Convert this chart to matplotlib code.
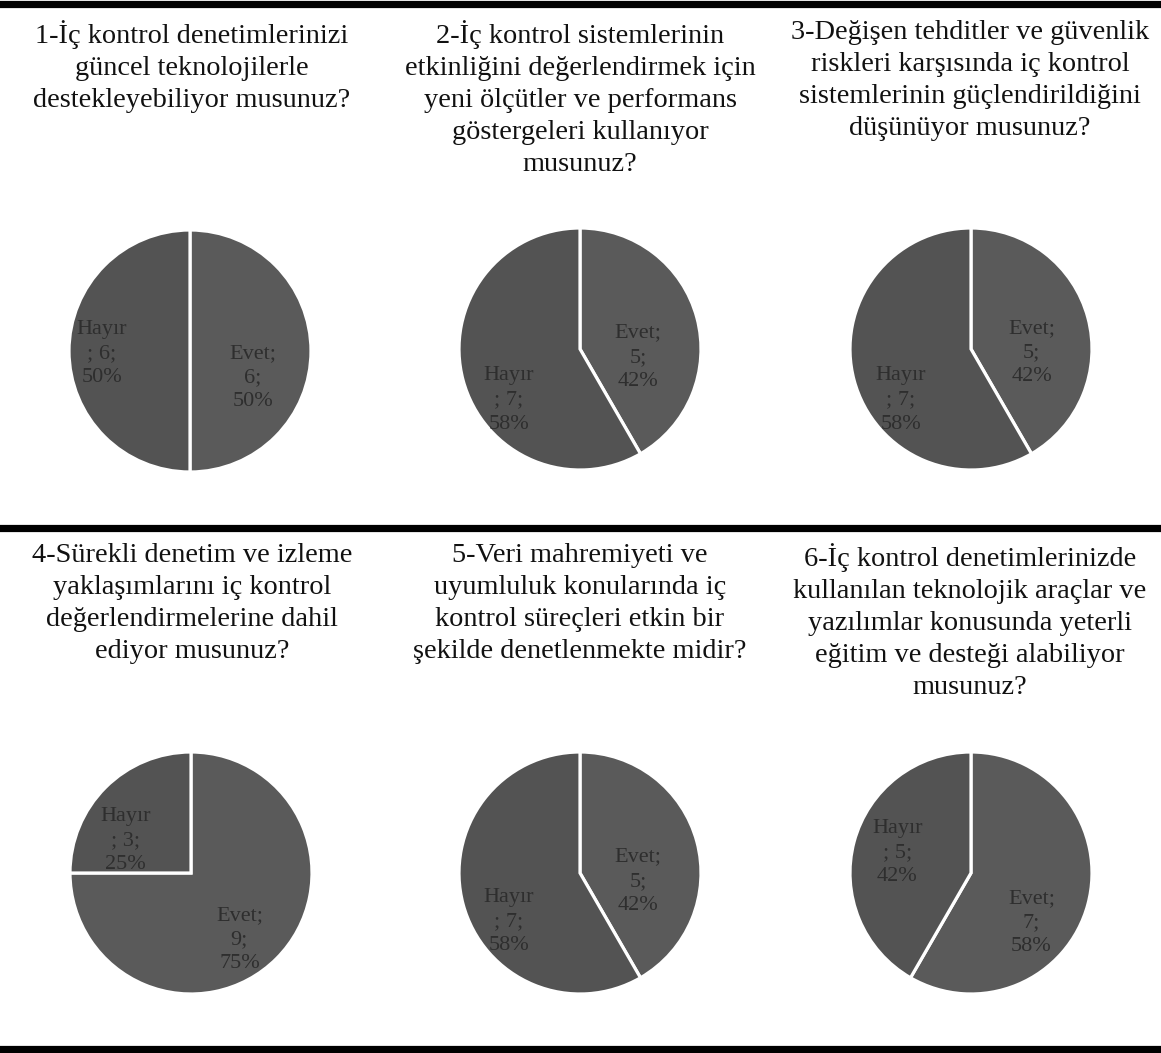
import matplotlib
matplotlib.use("Agg")
import matplotlib.pyplot as plt
from matplotlib.lines import Line2D

W, H = 1161, 1053
DPI = 100

questions = [
    "1-İç kontrol denetimlerinizi\ngüncel teknolojilerle\ndestekleyebiliyor musunuz?",
    "2-İç kontrol sistemlerinin\netkinliğini değerlendirmek için\nyeni ölçütler ve performans\ngöstergeleri kullanıyor\nmusunuz?",
    "3-Değişen tehditler ve güvenlik\nriskleri karşısında iç kontrol\nsistemlerinin güçlendirildiğini\ndüşünüyor musunuz?",
    "4-Sürekli denetim ve izleme\nyaklaşımlarını iç kontrol\ndeğerlendirmelerine dahil\nediyor musunuz?",
    "5-Veri mahremiyeti ve\nuyumluluk konularında iç\nkontrol süreçleri etkin bir\nşekilde denetlenmekte midir?",
    "6-İç kontrol denetimlerinizde\nkullanılan teknolojik araçlar ve\nyazılımlar konusunda yeterli\neğitim ve desteği alabiliyor\nmusunuz?",
]
categories = ["Evet", "Hayır"]
evet = [6, 5, 5, 9, 5, 7]
hayir = [6, 7, 7, 3, 7, 5]

# layout (pixels)
pie_centers = [(190, 351), (580, 349), (971, 349),
               (191, 873), (580, 873), (971, 873)]
col_centers = [192, 580, 970]
title_tops = [20, 543]
R = 121
# label offsets in radius units (x right, y up): (evet, hayir)
label_pos = [
    ((0.52, -0.22), (-0.73, -0.02)),
    ((0.48, -0.07), (-0.59, -0.42)),
    ((0.50, -0.03), (-0.58, -0.42)),
    ((0.40, -0.55), (-0.54, 0.27)),
    ((0.48, -0.07), (-0.59, -0.40)),
    ((0.50, -0.41), (-0.61, 0.17)),
]

colors = ["#5a5a5a", "#535353"]
text_color = "#2e2e2e"

plt.rcParams["font.family"] = ["Liberation Serif", "DejaVu Serif"]

fig = plt.figure(figsize=(W / DPI, H / DPI), dpi=DPI)

for i in range(6):
    cx, cy = pie_centers[i]
    ax = fig.add_axes([(cx - R) / W, 1 - (cy + R) / H, 2 * R / W, 2 * R / H])
    vals = [evet[i], hayir[i]]
    ax.pie(vals, colors=colors, startangle=90, counterclock=False,
           wedgeprops=dict(edgecolor="white", linewidth=2.3))
    ax.set_xlim(-1, 1)
    ax.set_ylim(-1, 1)
    ax.set_aspect("equal")
    total = sum(vals)
    for j, name in enumerate(categories):
        pct = round(100 * vals[j] / total)
        if name == "Evet":
            txt = f"{name};\n{vals[j]};\n{pct}%"
        else:
            txt = f"{name}\n; {vals[j]};\n{pct}%"
        lx, ly = label_pos[i][j]
        ax.text(lx, ly, txt, ha="center", va="center", fontsize=16,
                color=text_color, linespacing=1.38)

    # question title
    row, col = divmod(i, 3)
    fig.text(col_centers[col] / W, 1 - title_tops[row] / H, questions[i],
             ha="center", va="top", fontsize=20.4, color="#111111",
             linespacing=1.37)

# thick separators
for y in [4, 528, 1049]:
    fig.add_artist(Line2D([3 / W, 1], [1 - y / H, 1 - y / H],
                          color="black", linewidth=5.2,
                          transform=fig.transFigure))

fig.savefig("out.png", dpi=DPI, facecolor="white")
